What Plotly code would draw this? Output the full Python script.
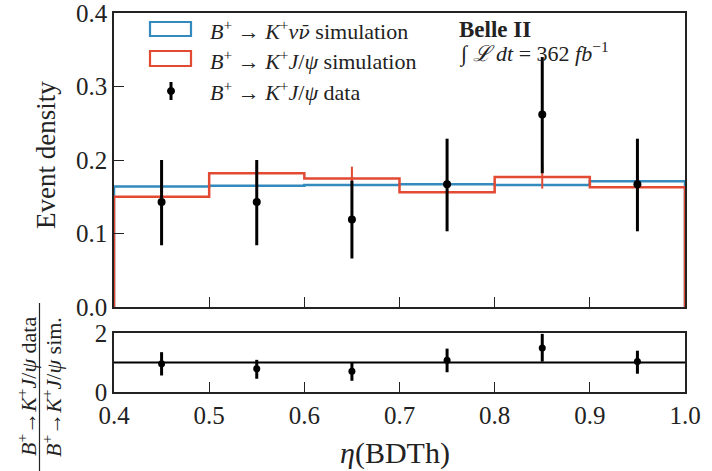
import plotly.graph_objects as go

# ---------------- data ----------------
bin_edges = [0.4, 0.5, 0.6, 0.7, 0.8, 0.9, 1.0]
knunu_sim = [0.164, 0.165, 0.166, 0.167, 0.166, 0.171]
jpsi_sim = [0.150, 0.182, 0.175, 0.156, 0.177, 0.163]
jpsi_sim_err = [0.016, 0.016, 0.016, 0.016, 0.016, 0.016]
jpsi_data = [0.143, 0.143, 0.119, 0.167, 0.262, 0.167]
jpsi_data_up = [0.200, 0.200, 0.172, 0.229, 0.340, 0.229]
jpsi_data_down = [0.084, 0.084, 0.066, 0.103, 0.182, 0.103]
ratio = [0.96, 0.79, 0.70, 1.08, 1.49, 1.03]
ratio_up = [1.35, 1.09, 1.00, 1.47, 1.97, 1.40]
ratio_down = [0.56, 0.45, 0.38, 0.67, 1.03, 0.62]
x_ticks = [0.4, 0.5, 0.6, 0.7, 0.8, 0.9, 1.0]
x_ticklabels = ["0.4", "0.5", "0.6", "0.7", "0.8", "0.9", "1.0"]
y_ticks = [0.0, 0.1, 0.2, 0.3, 0.4]
y_ticklabels = ["0.0", "0.1", "0.2", "0.3", "0.4"]
r_ticks = [0, 2]
r_ticklabels = ["0", "2"]

BLUE = "#348ABD"
RED = "#E24A33"
FONT = "Liberation Serif"
INK = "#222"

centers = [(bin_edges[i] + bin_edges[i + 1]) / 2 for i in range(len(bin_edges) - 1)]


def step_xy(vals):
    xs = [bin_edges[0]] + bin_edges[:-1] + [bin_edges[-1]]
    ys = [0] + list(vals) + [0]
    return xs, ys


W, H = 712, 471
# plot area in window pixels
SX0, SX1, SY0, SY1 = 114, 685, 13, 392
L, T = SX0, SY0
R, B = W - SX1, H - SY1
PW, PH = SX1 - SX0, SY1 - SY0


def px(x):
    return (x - SX0) / PW


def py(y):
    return (SY1 - y) / PH


fig = go.Figure()

xs, ys = step_xy(knunu_sim)
fig.add_trace(go.Scatter(x=xs, y=ys, mode="lines", line=dict(color=BLUE, width=2.5, shape="hv"),
                         xaxis="x", yaxis="y", showlegend=False))
xs, ys = step_xy(jpsi_sim)
fig.add_trace(go.Scatter(x=xs, y=ys, mode="lines", line=dict(color=RED, width=2.5, shape="hv"),
                         xaxis="x", yaxis="y", showlegend=False))
fig.add_trace(go.Scatter(x=centers, y=jpsi_sim, mode="markers", marker=dict(size=1, color=RED, opacity=0),
                         error_y=dict(type="data", array=jpsi_sim_err, color=RED, thickness=2, width=0),
                         xaxis="x", yaxis="y", showlegend=False))
fig.add_trace(go.Scatter(x=centers, y=jpsi_data, mode="markers", marker=dict(size=8, color="black"),
                         error_y=dict(type="data", symmetric=False,
                                      array=[u - v for u, v in zip(jpsi_data_up, jpsi_data)],
                                      arrayminus=[v - d for v, d in zip(jpsi_data, jpsi_data_down)],
                                      color="black", thickness=3, width=0),
                         xaxis="x", yaxis="y", showlegend=False))

# ratio panel
fig.add_trace(go.Scatter(x=[bin_edges[0], bin_edges[-1]], y=[1, 1], mode="lines",
                         line=dict(color="black", width=1.8), xaxis="x2", yaxis="y2", showlegend=False))
fig.add_trace(go.Scatter(x=centers, y=ratio, mode="markers", marker=dict(size=7, color="black"),
                         error_y=dict(type="data", symmetric=False,
                                      array=[u - v for u, v in zip(ratio_up, ratio)],
                                      arrayminus=[v - d for v, d in zip(ratio, ratio_down)],
                                      color="black", thickness=3, width=0),
                         xaxis="x2", yaxis="y2", showlegend=False))

axis_common = dict(showgrid=False, zeroline=False, showline=True, linecolor=INK, linewidth=1.5,
                   mirror=True, ticks="inside", ticklen=10, tickcolor=INK, tickwidth=1.3,
                   automargin=False, ticklabeloverflow="allow",
                   tickfont=dict(family=FONT, size=25, color=INK))

main_bottom = py(307)
ratio_top = py(333)

fig.update_layout(
    width=W, height=H,
    margin=dict(l=L, r=R, t=T, b=B, autoexpand=False),
    plot_bgcolor="white", paper_bgcolor="white",
    xaxis=dict(domain=[0, 1], range=[0.4, 1.0], anchor="y", tickvals=x_ticks, showticklabels=False,
               **axis_common),
    yaxis=dict(domain=[main_bottom, 1], range=[0, 0.4], anchor="x", tickvals=y_ticks, ticktext=y_ticklabels,
               **axis_common),
    xaxis2=dict(domain=[0, 1], range=[0.4, 1.0], anchor="y2", tickvals=x_ticks, ticktext=x_ticklabels,
                **axis_common),
    yaxis2=dict(domain=[0, ratio_top], range=[0, 2], anchor="x2", tickvals=r_ticks, ticktext=r_ticklabels,
                **axis_common),
)

shapes = []
annotations = []

# axis titles as annotations for exact placement
annotations.append(dict(xref="paper", yref="paper", x=px(46), y=py(155), text="Event density", textangle=-90,
                        showarrow=False, xanchor="center", yanchor="middle",
                        font=dict(family=FONT, size=27, color=INK)))
annotations.append(dict(xref="paper", yref="paper", x=px(395), y=py(453), text="<i>η</i>(BDTh)",
                        showarrow=False, xanchor="center", yanchor="middle",
                        font=dict(family=FONT, size=30, color=INK)))

# ---------- manual legend ----------
shapes.append(dict(type="rect", xref="paper", yref="paper", x0=px(150), x1=px(191), y0=py(36), y1=py(22),
                   line=dict(color=BLUE, width=2.2), fillcolor="rgba(0,0,0,0)"))
shapes.append(dict(type="rect", xref="paper", yref="paper", x0=px(150), x1=px(191), y0=py(66), y1=py(51),
                   line=dict(color=RED, width=2.2), fillcolor="rgba(0,0,0,0)"))
shapes.append(dict(type="line", xref="paper", yref="paper", x0=px(171), x1=px(171), y0=py(100), y1=py(82),
                   line=dict(color="black", width=3)))
shapes.append(dict(type="circle", xref="paper", yref="paper", x0=px(167.5), x1=px(174.5), y0=py(94.5), y1=py(87.5),
                   line=dict(color="black", width=1), fillcolor="black"))

leg_font = dict(family=FONT, size=22, color=INK)
nubar = "<span style=\"font-family:'DejaVu Serif';font-style:italic;font-size:19px\">ν\u0304</span>"
legend_texts = [
    "<i>B</i><sup>+</sup> → <i>K</i><sup>+</sup><i>ν</i>" + nubar + " simulation",
    "<i>B</i><sup>+</sup> → <i>K</i><sup>+</sup><i>J</i>/<i>ψ</i> simulation",
    "<i>B</i><sup>+</sup> → <i>K</i><sup>+</sup><i>J</i>/<i>ψ</i> data",
]
for txt, yc in zip(legend_texts, [30, 60, 91]):
    annotations.append(dict(xref="paper", yref="paper", x=px(208), y=py(yc), text=txt, showarrow=False,
                            xanchor="left", yanchor="middle", font=leg_font))

annotations.append(dict(xref="paper", yref="paper", x=px(457), y=py(29), text="<b>Belle II</b>", showarrow=False,
                        xanchor="left", yanchor="middle", font=dict(family=FONT, size=23, color=INK)))
annotations.append(dict(xref="paper", yref="paper", x=px(457), y=py(52),
                        text="∫ <i>ℒ dt</i> = 362 <i>fb</i><sup>−1</sup>", showarrow=False,
                        xanchor="left", yanchor="middle", font=dict(family=FONT, size=22, color=INK)))

# ratio y label as fraction
annotations.append(dict(xref="paper", yref="paper", x=px(27), y=py(387),
                        text="<i>B</i><sup>+</sup>→<i>K</i><sup>+</sup><i>J</i>/<i>ψ</i> data",
                        textangle=-90, showarrow=False, xanchor="center", yanchor="middle",
                        font=dict(family=FONT, size=22, color=INK)))
annotations.append(dict(xref="paper", yref="paper", x=px(52), y=py(387),
                        text="<i>B</i><sup>+</sup>→<i>K</i><sup>+</sup><i>J</i>/<i>ψ</i> sim.",
                        textangle=-90, showarrow=False, xanchor="center", yanchor="middle",
                        font=dict(family=FONT, size=22, color=INK)))
shapes.append(dict(type="line", xref="paper", yref="paper", x0=px(39.5), x1=px(39.5), y0=py(303), y1=py(471),
                   line=dict(color=INK, width=1.2)))

fig.update_layout(shapes=shapes, annotations=annotations)

# remove the default 8px page margin so the figure fills the window exactly
fig.write_html("out.html", config={"displayModeBar": False},
               post_script="document.body.style.margin='0';")
